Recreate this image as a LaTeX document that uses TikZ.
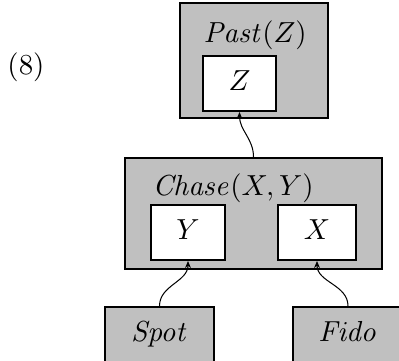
\documentclass[tikz,border=0pt]{standalone}
\usetikzlibrary{arrows.meta}
\definecolor{boxgray}{RGB}{192,192,192}
\def\u{0.345pt}
\tikzset{
  outer/.style={draw, fill=boxgray, line width=0.7pt, inner sep=0pt},
  inner/.style={draw, fill=white, line width=0.7pt, inner sep=0pt,
    text height=7pt, text depth=2pt},
  leaf/.style={draw, fill=boxgray, line width=0.7pt, inner sep=0pt,
    text height=7pt, text depth=2pt},
  title/.style={anchor=base west, inner sep=0pt},
  link/.style={line width=0.35pt, -{Stealth[length=2.4pt,width=2pt]},
    out=90, in=-90}
}
\begin{document}
\begin{tikzpicture}[x=\u, y=-\u]
  \useasboundingbox (0,0) rectangle (399,360);

  % example number
  \node (num) at (26,67) {(8)};

  % Past(Z)
  \node[outer, minimum width=148*\u, minimum height=115*\u] (past) at (254,60.5) {};
  \node[title] (pastlbl) at (203,42) {$\mathit{Past}(Z)$};
  \node[inner, minimum width=73*\u, minimum height=55*\u] (z) at (239.5,83.5) {$Z$};

  % Chase(X,Y)
  \node[outer, minimum width=257*\u, minimum height=111*\u] (chase) at (253.5,213.5) {};
  \node[title] (chaselbl) at (152,195) {$\mathit{Chase}(X,Y)$};
  \node[inner, minimum width=74*\u, minimum height=55*\u] (y) at (188,232.5) {$Y$};
  \node[inner, minimum width=78*\u, minimum height=55*\u] (x) at (317,232.5) {$X$};

  % arguments
  \node[leaf, minimum width=109*\u, minimum height=55*\u] (spot) at (159.5,334.5) {$\mathit{Spot}$};
  \node[leaf, minimum width=110*\u, minimum height=55*\u] (fido) at (348,334.5) {$\mathit{Fido}$};

  % links
  \draw[link] (spot.north) to (y.south);
  \draw[link] (fido.north) to (x.south);
  \draw[link] (chase.north) to (z.south);
\end{tikzpicture}
\end{document}
